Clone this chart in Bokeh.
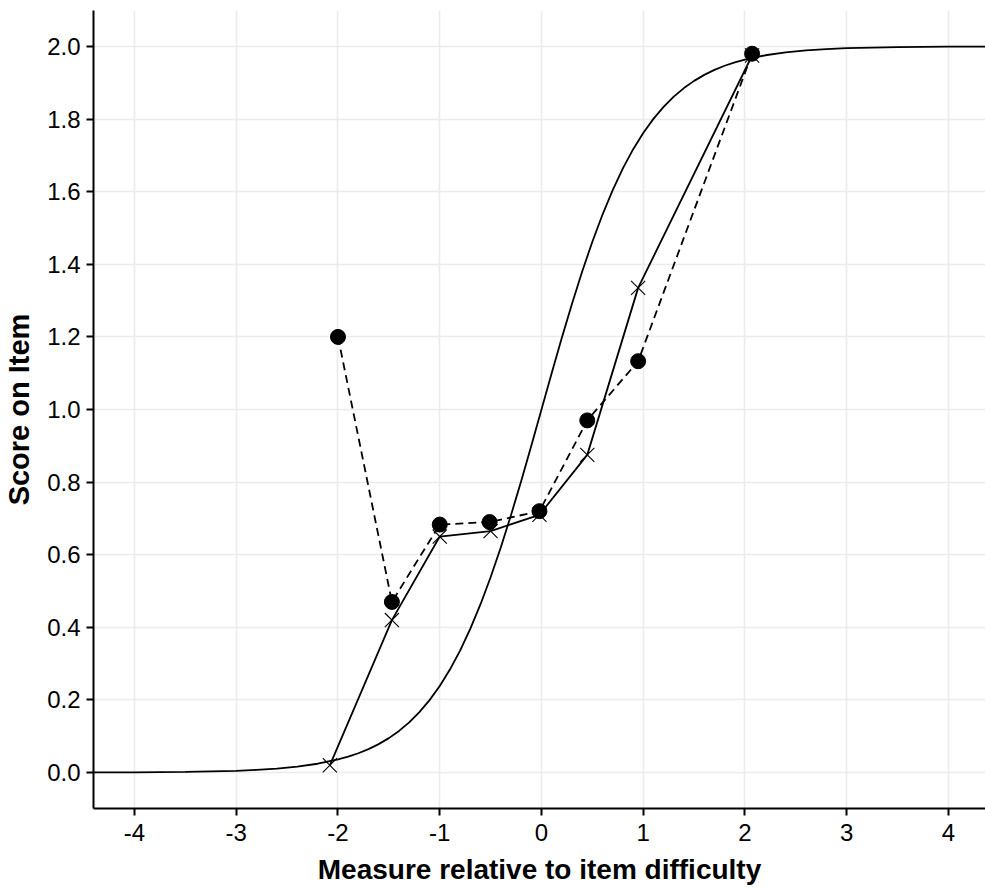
from bokeh.plotting import figure
from bokeh.models import FixedTicker, PrintfTickFormatter, Range1d
from bokeh.embed import file_html
from bokeh.resources import INLINE

# Model curve
curve_x = [-4.4, -4.0, -3.5, -3.0, -2.8, -2.6, -2.4, -2.2, -2.0, -1.9, -1.8, -1.7, -1.6,
           -1.5, -1.4, -1.3, -1.2, -1.1, -1.0, -0.9, -0.8, -0.7, -0.6, -0.5, -0.4, -0.3,
           -0.2, -0.1, 0.0, 0.1, 0.2, 0.3, 0.4, 0.5, 0.6, 0.7, 0.8, 0.9, 1.0, 1.1, 1.2,
           1.3, 1.4, 1.5, 1.6, 1.7, 1.8, 1.9, 2.0, 2.2, 2.4, 2.6, 2.8, 3.0, 3.25, 3.5,
           4.0, 4.4]
curve_y = [0.0003, 0.0007, 0.0018, 0.0049, 0.0074, 0.011, 0.0163, 0.0243, 0.036, 0.0438,
           0.0532, 0.0646, 0.0783, 0.0948, 0.1147, 0.1383, 0.1664, 0.1995, 0.2384, 0.2837,
           0.336, 0.3957, 0.463, 0.5379, 0.620, 0.7087, 0.8026, 0.9003, 1.0, 1.0997,
           1.1974, 1.2913, 1.380, 1.4621, 1.537, 1.6043, 1.664, 1.7163, 1.7616, 1.8005,
           1.8336, 1.8617, 1.8853, 1.9052, 1.9217, 1.9354, 1.9468, 1.9562, 1.964, 1.9757,
           1.9837, 1.989, 1.9926, 1.9951, 1.997, 1.9982, 1.9993, 1.9997]

# Expected scores (solid line, x markers)
exp_x = [-2.08, -1.47, -1.0, -0.5, -0.02, 0.45, 0.95, 2.07]
exp_y = [0.02, 0.42, 0.65, 0.665, 0.71, 0.875, 1.335, 1.975]

# Observed scores (dashed line, filled circles)
obs_x = [-2.0, -1.47, -1.0, -0.51, -0.02, 0.45, 0.95, 2.07]
obs_y = [1.20, 0.47, 0.683, 0.69, 0.72, 0.97, 1.133, 1.98]

x_ticks = [-4, -3, -2, -1, 0, 1, 2, 3, 4]
y_ticks = [0.0, 0.2, 0.4, 0.6, 0.8, 1.0, 1.2, 1.4, 1.6, 1.8, 2.0]

FONT = "Liberation Sans"

p = figure(width=985, height=887, output_backend="svg", toolbar_location=None,
           x_range=Range1d(-4.403, 4.364), y_range=Range1d(-0.099, 2.099),
           min_border_left=93, min_border_right=0, min_border_top=10, min_border_bottom=78)
p.outline_line_color = None
p.background_fill_color = "white"

for g in (p.xgrid, p.ygrid):
    g.grid_line_color = "#EBEBEB"
    g.grid_line_width = 1.6

p.xaxis.ticker = FixedTicker(ticks=x_ticks)
p.yaxis.ticker = FixedTicker(ticks=y_ticks)
p.xaxis.formatter = PrintfTickFormatter(format="%d")
p.yaxis.formatter = PrintfTickFormatter(format="%.1f")

for ax in (p.xaxis, p.yaxis):
    ax.axis_line_color = "black"
    ax.axis_line_width = 2
    ax.major_tick_line_color = "black"
    ax.major_tick_line_width = 2
    ax.major_tick_out = 7
    ax.major_tick_in = 0
    ax.minor_tick_line_color = None
    ax.major_label_text_font = FONT
    ax.major_label_text_font_size = "24px"
    ax.major_label_text_color = "black"
    ax.axis_label_text_font = FONT
    ax.axis_label_text_font_style = "bold"
    ax.axis_label_text_color = "black"

p.xaxis.axis_label = "Measure relative to item difficulty"
p.yaxis.axis_label = "Score on Item"
p.xaxis.axis_label_text_font_size = "28px"
p.yaxis.axis_label_text_font_size = "29px"
p.xaxis.major_label_standoff = 8
p.yaxis.major_label_standoff = 6
p.xaxis.axis_label_standoff = 10
p.yaxis.axis_label_standoff = 9

p.line(curve_x, curve_y, line_color="black", line_width=1.8)
p.line(exp_x, exp_y, line_color="black", line_width=1.8)
p.scatter(exp_x, exp_y, marker="x", size=20, line_color="black", line_width=1.1)
p.line(obs_x, obs_y, line_color="black", line_width=1.8, line_dash="8 5")
p.scatter(obs_x, obs_y, marker="circle", size=15, fill_color="black", line_color="black")

open("out.html", "w").write(file_html(p, INLINE))
